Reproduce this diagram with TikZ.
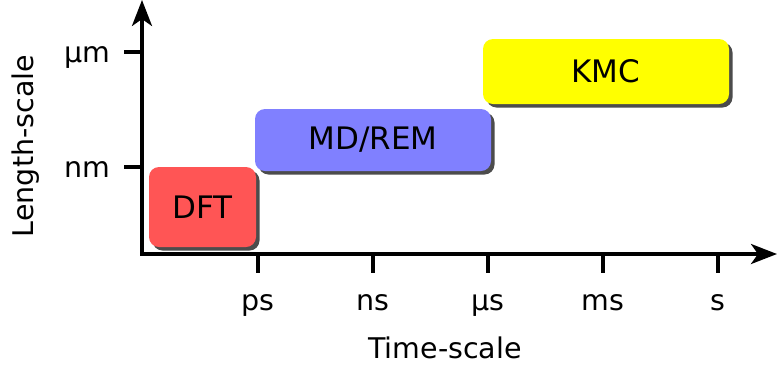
\documentclass[tikz,border=0pt]{standalone}
\usepackage{fontspec}
\setmainfont{DejaVu Sans}
\usetikzlibrary{arrows.meta,shadows}
\begin{document}
\begin{tikzpicture}[x=1pt,y=1pt,
  axis/.style={line width=3.6pt,-{Stealth[length=26pt,width=20pt,inset=7pt]}},
  tickline/.style={line width=3.6pt},
  lbl/.style={font=\fontsize{28.5}{33}\selectfont,inner sep=0pt},
  scalebox/.style={rounded corners=10pt,inner sep=0pt,font=\fontsize{31}{36}\selectfont,
    drop shadow={shadow xshift=3.5pt,shadow yshift=-3.5pt,fill=black!70,opacity=1}}
]
\useasboundingbox (0,0) rectangle (777,-376);
% axes
\coordinate (o) at (142,-254);
\coordinate (xend) at (777,-254);
\coordinate (ytop) at (142,0);
\draw[axis] (142,-255.8) -- (ytop);
\draw[axis] (140.2,-254) -- (xend);
% x ticks
\foreach \x/\t [count=\i] in {258/ps,373/ns,488/µs,603/ms,718/s}{
  \coordinate (xt\i) at (\x,-254);
  \coordinate (xb\i) at (\x,-273);
  \draw[tickline] (xt\i) -- (xb\i);
  \node[lbl,anchor=base] (xl\i) at (\x,-310) {\t};
}
% y ticks
\foreach \y/\t [count=\i] in {52/µm,167/nm}{
  \coordinate (yr\i) at (142,-\y);
  \coordinate (yl\i) at (124,-\y);
  \draw[tickline] (yr\i) -- (yl\i);
  \node[lbl,anchor=base] (ylab\i) at (87,-\y-10) {\t};
}
% axis titles
\node[lbl,anchor=base] (xtitle) at (445,-358) {Time-scale};
\node[lbl,rotate=90] (ytitle) at (26,-146) {Length-scale};
% boxes
\node[scalebox,fill={rgb,255:red,255;green,85;blue,85},minimum width=107pt,minimum height=80pt] (dft) at (202.5,-207) {DFT};
\node[scalebox,fill={rgb,255:red,128;green,128;blue,255},minimum width=236pt,minimum height=62pt] (md) at (373,-140) {MD/REM};
\node[scalebox,fill={rgb,255:red,255;green,255;blue,0},minimum width=246pt,minimum height=65pt] (kmc) at (606,-71.5) {KMC};
\end{tikzpicture}
\end{document}
